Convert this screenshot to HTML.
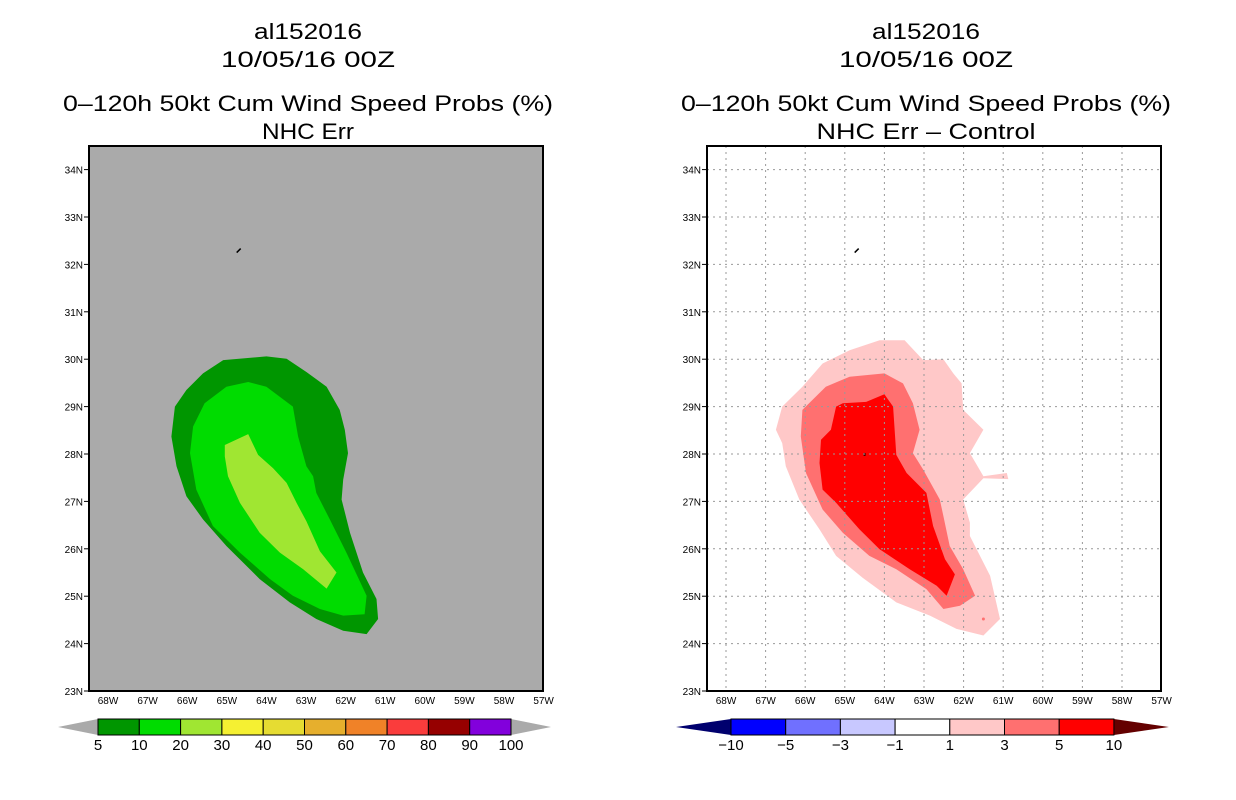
<!DOCTYPE html>
<html><head><meta charset="utf-8"><style>
body{margin:0;background:#fff;}
svg{display:block;font-family:"Liberation Sans",sans-serif;}
</style></head><body>
<svg id="svg" width="1236" height="800" viewBox="0 0 1236 800">
<g font-size="22" text-anchor="middle" fill="#000">
<text x="308" y="39" textLength="108" lengthAdjust="spacingAndGlyphs">al152016</text>
<text x="308" y="67" textLength="174" lengthAdjust="spacingAndGlyphs">10/05/16 00Z</text>
<text x="308" y="111" textLength="490" lengthAdjust="spacingAndGlyphs">0–120h 50kt Cum Wind Speed Probs (%)</text>
<text x="308" y="139" textLength="92" lengthAdjust="spacingAndGlyphs">NHC Err</text></g>
<g font-size="22" text-anchor="middle" fill="#000">
<text x="926" y="39" textLength="108" lengthAdjust="spacingAndGlyphs">al152016</text>
<text x="926" y="67" textLength="174" lengthAdjust="spacingAndGlyphs">10/05/16 00Z</text>
<text x="926" y="111" textLength="490" lengthAdjust="spacingAndGlyphs">0–120h 50kt Cum Wind Speed Probs (%)</text>
<text x="926" y="139" textLength="219" lengthAdjust="spacingAndGlyphs">NHC Err – Control</text></g>
<g id="L"></g>
<g id="R"></g>
<g id="CB"></g>
</svg>
<script>
// Left panel contour polygons (lon °W, lat °N)
const p5Lon=[65.09,64.0,63.49,62.99,62.48,62.15,62.02,61.94,62.06,62.10,61.89,61.56,61.22,61.18,61.47,62.06,62.74,63.41,64.17,65.01,65.6,66.02,66.27,66.4,66.31,66.02,65.6];
const p5Lat=[29.98,30.06,30.01,29.73,29.42,28.93,28.51,28.02,27.46,27.04,26.34,25.5,24.94,24.52,24.2,24.27,24.52,24.87,25.36,26.06,26.62,27.11,27.74,28.37,29.0,29.35,29.7];
const p10Lon=[65.01,64.46,64.0,63.33,63.2,62.99,62.82,62.74,62.4,61.98,61.47,61.52,62.06,62.65,63.33,63.91,64.67,65.35,65.77,65.93,65.85,65.56];
const p10Lat=[29.42,29.52,29.42,29.0,28.37,27.74,27.53,27.18,26.62,25.92,25.01,24.62,24.59,24.73,25.01,25.36,25.92,26.48,27.25,28.02,28.58,29.07];
const p20Lon=[65.05,64.46,64.21,63.83,63.49,63.24,62.99,62.65,62.23,62.48,63.07,63.66,64.17,64.67,64.97,65.05];
const p20Lat=[28.19,28.42,27.98,27.7,27.39,26.97,26.58,25.95,25.5,25.16,25.57,25.92,26.34,26.97,27.53,27.95];
// Right panel difference contours
const d1Lon=[66.74,66.58,66.07,65.56,64.88,64.12,63.49,63.02,62.51,62.26,62.05,62.01,61.5,61.84,61.5,60.91,60.87,61.5,62.01,61.84,61.84,61.33,61.08,61.5,62.18,62.85,63.7,64.55,65.22,65.64,66.15,66.49,66.58];
const d1Lat=[28.51,29.0,29.42,29.91,30.19,30.4,30.4,29.98,30.0,29.7,29.49,28.93,28.51,28.02,27.53,27.6,27.47,27.49,27.04,26.55,26.27,25.43,24.52,24.17,24.31,24.59,24.87,25.39,25.85,26.41,27.04,27.74,28.23];
const d3Lon=[66.07,65.48,64.88,64.0,63.53,63.28,63.11,63.28,63.02,62.6,62.51,62.35,62.01,61.71,62.09,62.51,62.94,63.7,64.38,65.05,65.56,65.98,66.11];
const d3Lat=[28.93,29.42,29.63,29.7,29.49,29.07,28.51,28.02,27.67,27.04,26.69,26.06,25.57,25.01,24.8,24.73,25.15,25.57,25.85,26.34,26.83,27.6,28.37];
const d5Lon=[65.22,65.05,64.46,64.0,63.78,63.7,63.44,62.94,62.77,62.47,62.22,62.43,62.68,63.36,64.12,64.63,65.22,65.56,65.64,65.6,65.35];
const d5Lat=[29.0,29.07,29.1,29.26,29.0,27.98,27.6,27.18,26.48,25.78,25.46,25.01,25.22,25.57,25.99,26.41,26.97,27.25,27.81,28.3,28.51];
const lonTicks=[68,67,66,65,64,63,62,61,60,59,58,57];
const latTicks=[23,24,25,26,27,28,29,30,31,32,33,34];
const probLevels=["5","10","20","30","40","50","60","70","80","90","100"];
const probColors=["#009600","#00dc00","#a0e632","#f5f032","#e6dc32","#e6af2d","#f08228","#fa3c3c","#960000","#8200dc"];
const diffLevels=["−10","−5","−3","−1","1","3","5","10"];
const diffColors=["#0000ff","#7070ff","#c8c8ff","#ffffff","#ffc8c8","#ff7070","#ff0000"];

const NS="http://www.w3.org/2000/svg";
function mk(t,a,p){const e=document.createElementNS(NS,t);for(const k in a)e.setAttribute(k,a[k]);p.appendChild(e);return e;}
const T=146,B=691,W=454;
function xs(x0){return lon=>x0+19+(68-lon)*39.6;}
function ys(lat){return 691-(lat-23)*47.4;}
function poly(g,X,lons,lats,fill,name){
  const pts=lons.map((l,i)=>X(l).toFixed(1)+","+ys(lats[i]).toFixed(1)).join(" ");
  const e=mk("polygon",{points:pts,fill:fill},g);
  
  
}
function panel(g,x0,bg,grid,drawFn){
  const X=xs(x0);
  const r=mk("rect",{x:x0,y:T,width:W,height:B-T,fill:bg},g);
  
  
  drawFn(X);
  latTicks.forEach(lat=>{const y=ys(lat);
    if(grid&&lat>23){const l=mk("line",{x1:x0,x2:x0+W,y1:y,y2:y,stroke:"#999","stroke-dasharray":"2,4","stroke-width":1},g);
      
      }
    mk("line",{x1:x0-5,x2:x0,y1:y,y2:y,stroke:"#000"},g);
    const t=mk("text",{x:x0-6,y:y+4,"font-size":10,"text-anchor":"end"},g);t.textContent=lat+"N";
    
    });
  lonTicks.forEach(lon=>{const x=X(lon);
    if(grid&&lon>57){const l=mk("line",{x1:x,x2:x,y1:T,y2:B,stroke:"#999","stroke-dasharray":"2,4","stroke-width":1},g);
      
      }
    const t=mk("text",{x:x,y:704,"font-size":10,"text-anchor":"middle"},g);t.textContent=lon+"W";
    
    });
  mk("path",{d:`M${X(64.75)},${ys(32.25)} l4,-4`,stroke:"#000","stroke-width":1.5},g);
  const f=mk("rect",{x:x0,y:T,width:W,height:B-T,fill:"none",stroke:"#000","stroke-width":2},g);
  
  
}
const L=document.getElementById("L"),R=document.getElementById("R");
panel(L,89,"#aaaaaa",false,X=>{
  poly(L,X,p5Lon,p5Lat,probColors[0],'contour-5pct');
  poly(L,X,p10Lon,p10Lat,probColors[1],'contour-10pct');
  poly(L,X,p20Lon,p20Lat,probColors[2],'contour-20pct');
});
panel(R,707,"#ffffff",true,X=>{
  poly(R,X,d1Lon,d1Lat,diffColors[4],'diff-contour-1');
  poly(R,X,d3Lon,d3Lat,diffColors[5],'diff-contour-3');
  poly(R,X,d5Lon,d5Lat,diffColors[6],'diff-contour-5');
  mk("circle",{cx:X(61.5),cy:ys(24.52),r:1.5,fill:"#ff7070"},R);
  mk("rect",{x:X(64.5)-1,y:ys(27.98)-2,width:2,height:3,fill:"#400"},R);
});
// colorbars
const CB=document.getElementById("CB");
function cbar(x0,bw,y,cols,levels,tri,lc,rc,name){
  const n=cols.length;
  mk("polygon",{points:`${x0},${y} ${x0},${y+16} ${x0-tri},${y+8}`,fill:lc},CB);
  mk("polygon",{points:`${x0+n*bw},${y} ${x0+n*bw},${y+16} ${x0+n*bw+tri},${y+8}`,fill:rc},CB);
  cols.forEach((c,i)=>{const r=mk("rect",{x:x0+i*bw,y:y,width:bw,height:16,fill:c,stroke:"#000","stroke-width":1},CB);
    
    });
  levels.forEach((s,i)=>{const t=mk("text",{x:x0+(i+(levels.length>n?0:1))*bw,y:y+31,"font-size":15,"text-anchor":"middle"},CB);t.textContent=s;
    
    });
}
cbar(98,41.3,719,probColors,probLevels,40,"#aaaaaa","#aaaaaa",'prob-colorbar');
cbar(731,54.7,719,diffColors,diffLevels,55,"#00006e","#640000",'diff-colorbar');
</script>
</body></html>
